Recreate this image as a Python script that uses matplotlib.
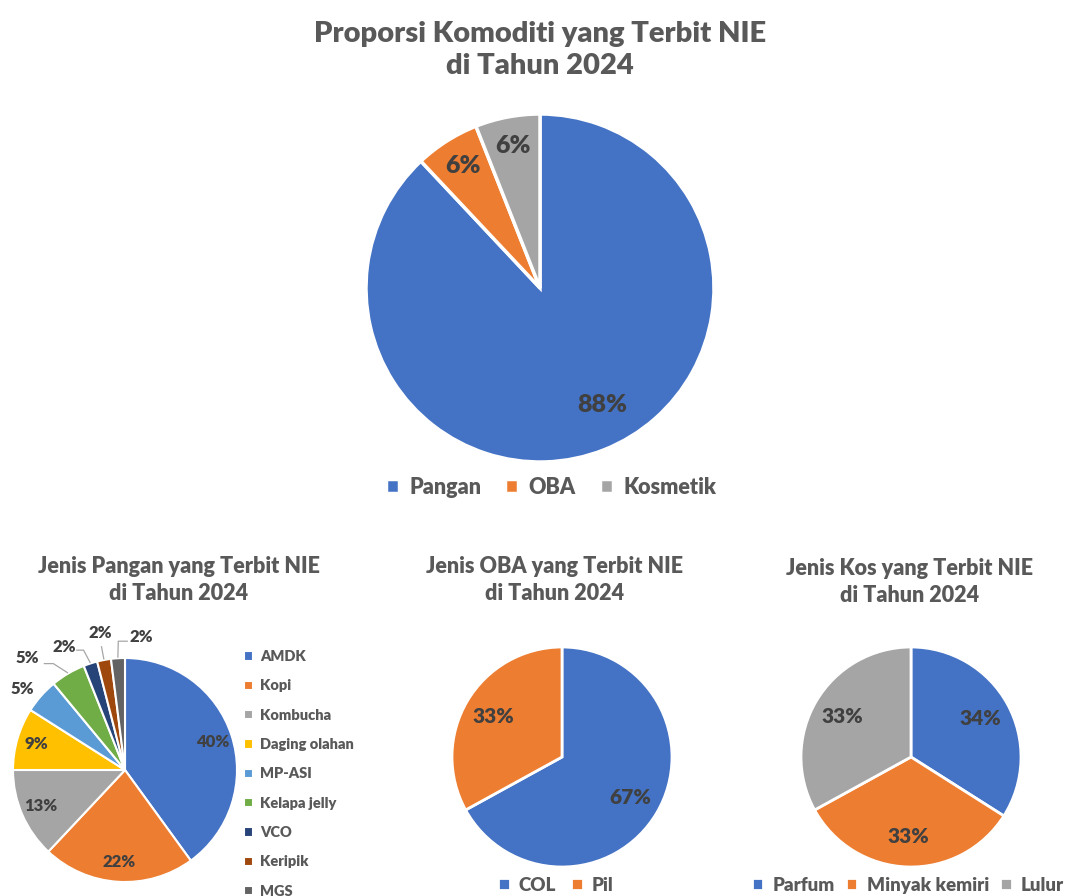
import numpy as np
import matplotlib
matplotlib.use("Agg")
import matplotlib.pyplot as plt

matplotlib.rcParams['font.family'] = ['Lato', 'DejaVu Sans']

# data
main_labels = ['Pangan', 'OBA', 'Kosmetik']
main_values = [88, 6, 6]

pangan_labels = ['AMDK', 'Kopi', 'Kombucha', 'Daging olahan', 'MP-ASI',
                 'Kelapa jelly', 'VCO', 'Keripik', 'MGS']
pangan_values = [40, 22, 13, 9, 5, 5, 2, 2, 2]

oba_labels = ['COL', 'Pil']
oba_values = [67, 33]

kos_labels = ['Parfum', 'Minyak kemiri', 'Lulur']
kos_values = [34, 33, 33]

blue, orange, grey = '#4472C4', '#ED7D31', '#A5A5A5'
pangan_colors = [blue, orange, grey, '#FFC000', '#5B9BD5', '#70AD47',
                 '#264478', '#9E480E', '#636363']
title_c = '#595959'
lbl_c = '#404040'
BW = 'heavy'

W, H = 1072, 896
fig = plt.figure(figsize=(W / 100, H / 100), dpi=100)


def pie_ax(cx, cy, r, pad=1.03):
    s = r * pad
    ax = fig.add_axes([(cx - s) / W, 1 - (cy + s) / H, 2 * s / W, 2 * s / H])
    return ax


def draw_pie(ax, vals, colors, pctdist, fs, lw=2):
    wedges, _, texts = ax.pie(vals, colors=colors, startangle=90, counterclock=False,
                              autopct='%1.0f%%', pctdistance=pctdist,
                              wedgeprops=dict(edgecolor='white', linewidth=lw),
                              textprops=dict(color=lbl_c, fontsize=fs, fontweight=BW))
    ax.set_xlim(-1.03, 1.03)
    ax.set_ylim(-1.03, 1.03)
    ax.set_aspect('equal')
    return wedges, texts


def legend(handles, labels, anchor, ncol, fs, loc='center', **kw):
    fig.legend(handles, labels, loc=loc, bbox_to_anchor=(anchor[0] / W, 1 - anchor[1] / H),
               ncol=ncol, frameon=False, handlelength=0.6, handleheight=0.6,
               handletextpad=0.5, prop=dict(size=fs, weight=BW), labelcolor=title_c, **kw)


# pie utama
ax = pie_ax(540, 288, 174)
w_main, t_main = draw_pie(ax, main_values, [blue, orange, grey], 0.83, 18, lw=2.5)
t_main[0].set_position((0.36, -0.67))
fig.text(540 / W, 1 - 50 / H, 'Proporsi Komoditi yang Terbit NIE\ndi Tahun 2024',
         ha='center', va='center', fontsize=21, fontweight=BW, color=title_c,
         linespacing=1.3)
legend(w_main, main_labels, (551, 487), 3, 15.5, columnspacing=1.1)

# pie pangan
ax = pie_ax(125, 770, 112)
wedges = ax.pie(pangan_values, colors=pangan_colors, startangle=90, counterclock=False,
                wedgeprops=dict(edgecolor='white', linewidth=1.5))[0]
ax.set_xlim(-1.03, 1.03)
ax.set_ylim(-1.03, 1.03)
ax.set_aspect('equal')
total = sum(pangan_values)
# label kecil di luar pie: posisi teks, awal garis, siku garis
outside = {
    4: ((-0.92, 0.72), None, None),
    5: ((-0.87, 1.0), (-0.72, 0.95), (-0.64, 0.95)),
    6: ((-0.54, 1.1), (-0.43, 1.07), (-0.37, 1.07)),
    7: ((-0.22, 1.22), None, None),
    8: ((0.15, 1.19), (0.02, 1.15), (-0.06, 1.15)),
}
for i, (wd, v) in enumerate(zip(wedges, pangan_values)):
    ang = np.deg2rad((wd.theta1 + wd.theta2) / 2)
    x, y = np.cos(ang), np.sin(ang)
    txt = '%d%%' % round(100 * v / total)
    if i not in outside:
        ax.text(0.82 * x, 0.82 * y, txt, ha='center', va='center', fontsize=12,
                fontweight=BW, color=lbl_c)
        continue
    (tx, ty), start, elbow = outside[i]
    ax.text(tx, ty, txt, ha='center', va='center', fontsize=12,
            fontweight=BW, color=lbl_c)
    if i == 7:
        ax.plot([x * 1.12, x * 1.01], [y * 1.12, y * 1.01], color='#A6A6A6', lw=0.9,
                clip_on=False)
    elif start is not None:
        ax.plot([start[0], elbow[0], x * 1.01], [start[1], elbow[1], y * 1.01],
                color='#A6A6A6', lw=0.9, clip_on=False)

fig.text(179 / W, 1 - 580 / H, 'Jenis Pangan yang Terbit NIE\ndi Tahun 2024',
         ha='center', va='center', fontsize=15.5, fontweight=BW, color=title_c,
         linespacing=1.3)
legend(wedges, pangan_labels, (231, 637), 1, 10.5, loc='upper left', labelspacing=1.12)

# pie OBA
ax = pie_ax(562, 757, 110)
w_oba, _ = draw_pie(ax, oba_values, [blue, orange], 0.72, 15)
fig.text(555 / W, 1 - 580 / H, 'Jenis OBA yang Terbit NIE\ndi Tahun 2024',
         ha='center', va='center', fontsize=15.5, fontweight=BW, color=title_c,
         linespacing=1.3)
legend(w_oba, oba_labels, (556, 885), 2, 13.5, columnspacing=0.8)

# pie kosmetik
ax = pie_ax(911, 757, 110)
w_kos, _ = draw_pie(ax, kos_values, [blue, orange, grey], 0.72, 15)
fig.text(910 / W, 1 - 582 / H, 'Jenis Kos yang Terbit NIE\ndi Tahun 2024',
         ha='center', va='center', fontsize=15.5, fontweight=BW, color=title_c,
         linespacing=1.3)
legend(w_kos, kos_labels, (908, 885), 3, 13.5, columnspacing=0.6)

plt.savefig('out.png', dpi=100)
